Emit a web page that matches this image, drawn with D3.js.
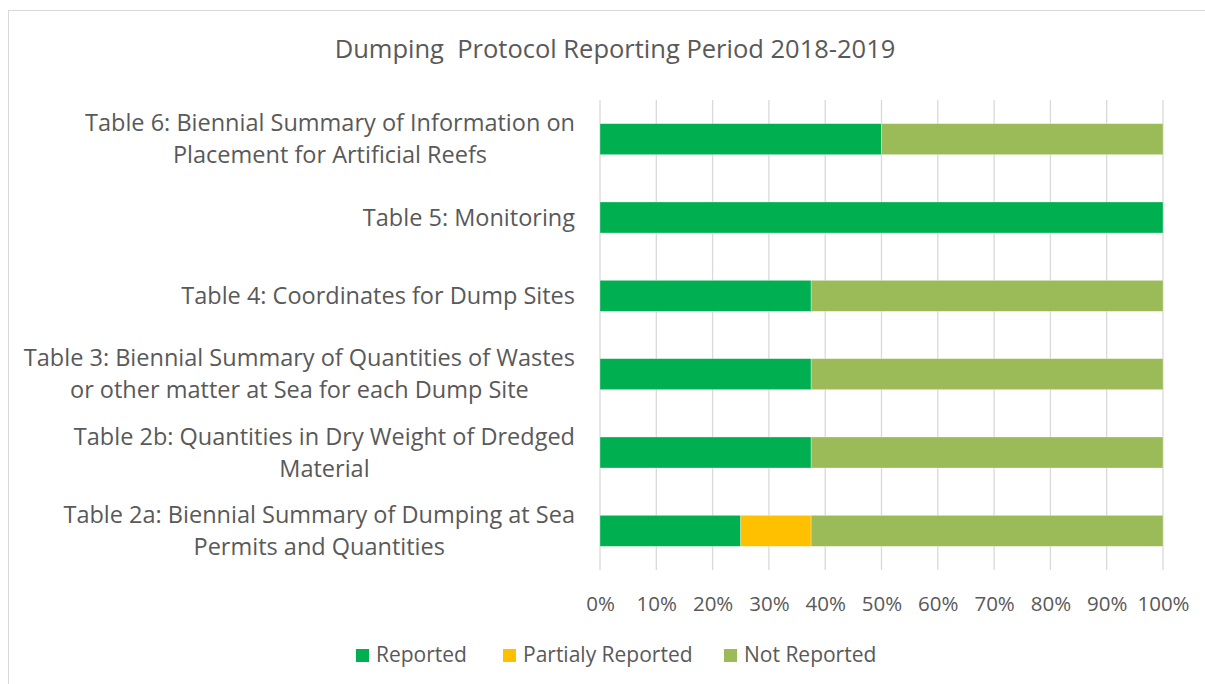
<!DOCTYPE html>
<html>
<head>
<meta charset="utf-8">
<script src="https://cdn.jsdelivr.net/npm/d3@7"></script>
<style>
  html, body { margin: 0; padding: 0; background: #fff; }
  svg text { font-family: "Open Sans", Lato, sans-serif; fill: #595959; }
</style>
</head>
<body>
<svg id="chart" width="1205" height="684"></svg>
<script>
const title = "Dumping  Protocol Reporting Period 2018-2019";
const categories = [
  "Table 6: Biennial Summary of Information on Placement for Artificial Reefs",
  "Table 5: Monitoring",
  "Table 4: Coordinates for Dump Sites",
  "Table 3: Biennial Summary of Quantities of Wastes or other matter at Sea for each Dump Site",
  "Table 2b: Quantities in Dry Weight of Dredged Material",
  "Table 2a: Biennial Summary of Dumping at Sea Permits and Quantities"
];
const seriesNames = ["Reported", "Partialy Reported", "Not Reported"];
const reported    = [0.50, 1.00, 0.375, 0.375, 0.375, 0.25];
const partial     = [0,    0,    0,     0,     0,     0.125];
const notReported = [0.50, 0,    0.625, 0.625, 0.625, 0.625];
const tickValues  = [0, 0.1, 0.2, 0.3, 0.4, 0.5, 0.6, 0.7, 0.8, 0.9, 1.0];
const colors = ["#00B050", "#FFC000", "#9BBB59"];

const svg = d3.select("#chart");

svg.append("rect").attr("x", 8.5).attr("y", 10.5).attr("width", 1230).attr("height", 700)
  .attr("fill", "#fff").attr("stroke", "#D9D9D9").attr("stroke-width", 1);

const x = d3.scaleLinear().domain([0, 1]).range([600, 1163]);
const y = d3.scaleBand().domain(categories).range([100, 570]).paddingInner(0.604).paddingOuter(0.302);

svg.append("g").selectAll("line").data(tickValues).join("line")
  .attr("x1", d => x(d)).attr("x2", d => x(d))
  .attr("y1", 100).attr("y2", 570)
  .attr("stroke", "#D9D9D9").attr("stroke-width", 1.3);

const rows = categories.map((c, i) => ({cat: c, v: [reported[i], partial[i], notReported[i]]}));
const stackData = rows.map(r => {
  let acc = 0;
  return r.v.map((v, k) => { const s = {cat: r.cat, k, x0: acc, x1: acc + v}; acc += v; return s; });
}).flat().filter(d => d.x1 > d.x0);

svg.append("g").selectAll("rect").data(stackData).join("rect")
  .attr("x", d => x(d.x0)).attr("width", d => x(d.x1) - x(d.x0))
  .attr("y", d => y(d.cat)).attr("height", y.bandwidth())
  .attr("fill", d => colors[d.k])
  .attr("stroke", "#ffffff").attr("stroke-opacity", 0.5).attr("stroke-width", 0.6);

const xAxis = d3.axisBottom(x).tickValues(tickValues).tickFormat(d3.format(".0%")).tickSize(0).tickPadding(0);
const gx = svg.append("g").attr("transform", "translate(0,596)").call(xAxis);
gx.select(".domain").remove();
gx.selectAll("text").attr("font-size", 20.5).attr("dy", "0.71em")
  .style("font-family", "'Open Sans', sans-serif").attr("fill", "#595959");

const labelSize = 23.5;
const lineH = 32;
const rightEdge = 575;
const measurer = svg.append("text").attr("font-size", labelSize).style("white-space", "pre");
function measure(t) { measurer.text(t); return measurer.node().getComputedTextLength(); }
function wrap(text, maxW) {
  const words = text.split(" ");
  const lines = [];
  let cur = "";
  words.forEach(w => {
    const test = cur ? cur + " " + w : w;
    if (cur && measure(test) > maxW) { lines.push(cur); cur = w; } else cur = test;
  });
  if (cur) lines.push(cur);
  return lines;
}
const gy = svg.append("g");
categories.forEach(c => {
  const lines = wrap(c, 560);
  const bw = d3.max(lines, l => measure(l));
  const cx = rightEdge - bw / 2;
  const cy = y(c) + y.bandwidth() / 2;
  const t = gy.append("text").attr("font-size", labelSize).attr("text-anchor", "middle");
  lines.forEach((l, i) => {
    t.append("tspan").attr("x", cx).attr("y", cy + (i - (lines.length - 1) / 2) * lineH).attr("dy", "0.35em").text(l);
  });
});
measurer.remove();

svg.append("text").attr("x", 615).attr("y", 58).attr("text-anchor", "middle")
  .attr("font-size", 25.5).style("white-space", "pre").text(title);

const legendX = [356, 503, 724];
const lg = svg.append("g");
seriesNames.forEach((n, i) => {
  lg.append("rect").attr("x", legendX[i]).attr("y", 649).attr("width", 13).attr("height", 13).attr("fill", colors[i]);
  lg.append("text").attr("x", legendX[i] + 20).attr("y", 655).attr("dy", "0.35em").attr("font-size", 21).text(n);
});
</script>
</body>
</html>
